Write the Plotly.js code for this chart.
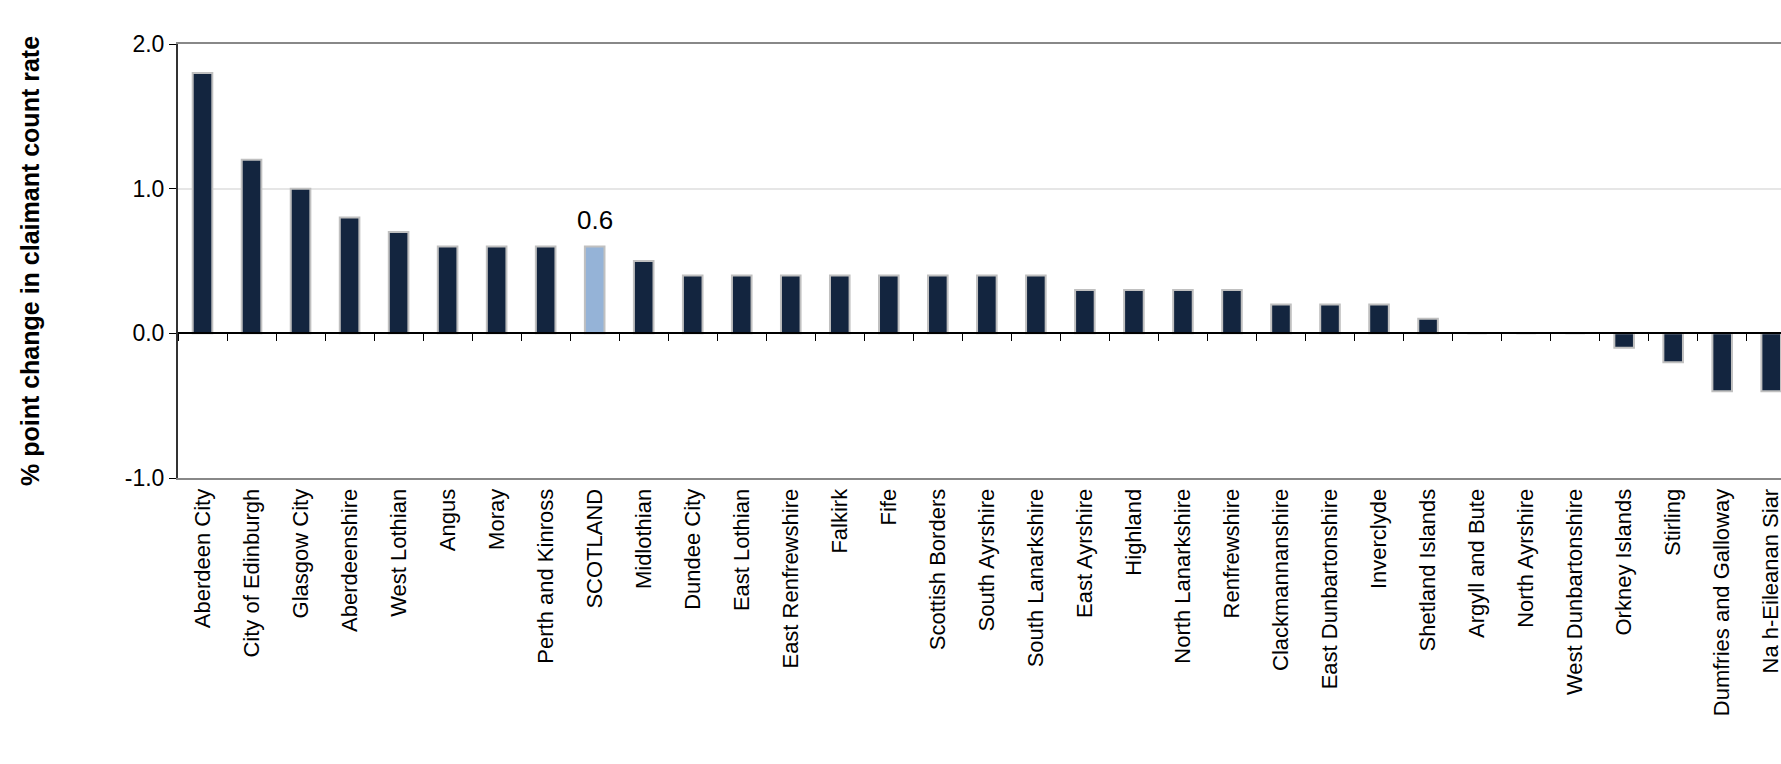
<!DOCTYPE html>
<html>
<head>
<script src="https://cdn.plot.ly/plotly-3.0.1.min.js"></script>
<style>body{margin:0;background:#fff}</style>
</head>
<body>
<div id="chart" style="width:1781px;height:764px"></div>
<script>
    // council areas, sorted by change
    let areas = ["Aberdeen City", "City of Edinburgh", "Glasgow City", "Aberdeenshire", "West Lothian",
        "Angus", "Moray", "Perth and Kinross", "SCOTLAND", "Midlothian", "Dundee City", "East Lothian",
        "East Renfrewshire", "Falkirk", "Fife", "Scottish Borders", "South Ayrshire", "South Lanarkshire",
        "East Ayrshire", "Highland", "North Lanarkshire", "Renfrewshire", "Clackmannanshire",
        "East Dunbartonshire", "Inverclyde", "Shetland Islands", "Argyll and Bute", "North Ayrshire",
        "West Dunbartonshire", "Orkney Islands", "Stirling", "Dumfries and Galloway", "Na h-Eileanan Siar"];
    let change = [1.8, 1.2, 1.0, 0.8, 0.7, 0.6, 0.6, 0.6, 0.6, 0.5, 0.4, 0.4, 0.4, 0.4, 0.4, 0.4, 0.4, 0.4,
        0.3, 0.3, 0.3, 0.3, 0.2, 0.2, 0.2, 0.1, 0, 0, 0, -0.1, -0.2, -0.4, -0.4];
    let yTicks = [-1, 0, 1, 2];
    let yTickText = ["-1.0", "0.0", "1.0", "2.0"];

    let colors = areas.map(a => a === "SCOTLAND" ? "#95b3d7" : "#13253f");

    var bars = {
        x: areas,
        y: change,
        type: 'bar',
        width: 0.4,
        marker: { color: colors, line: { color: '#c0c0c0', width: 2 } },
        hoverinfo: 'x+y'
    };
    // empty trace so the zero line axis shows up
    var zeroAxis = {
        x: areas, y: areas.map(() => null), xaxis: 'x2', type: 'scatter', mode: 'lines', hoverinfo: 'skip'
    };

    var layout = {
        paper_bgcolor: '#fff',
        plot_bgcolor: '#fff',
        showlegend: false,
        margin: { t: 44, r: 0, l: 178, b: 286 },
        font: { family: "Liberation Sans, Arial, sans-serif", size: 23, color: '#000' },
        xaxis: {
            range: [-0.5, 32.2],
            tickangle: -90,
            tickfont: { size: 22 },
            showline: true, linecolor: '#888', linewidth: 2, mirror: true,
            ticks: '', showgrid: false, zeroline: false
        },
        xaxis2: {
            overlaying: 'x', anchor: 'free', position: 1 / 3,
            range: [-0.5, 32.2],
            showticklabels: false, showline: true, linecolor: '#000', linewidth: 1.5,
            ticks: 'outside', tickson: 'boundaries', ticklen: 7, tickcolor: '#000',
            showgrid: false, zeroline: false
        },
        yaxis: {
            range: [-1, 2],
            tickvals: yTicks, ticktext: yTickText,
            ticks: 'outside', ticklen: 7, tickcolor: '#000',
            showline: true, linecolor: '#333', linewidth: 2,
            showgrid: true, gridcolor: '#e6e6e6', gridwidth: 1.5,
            zeroline: false,
            title: { text: '<b>% point change in claimant count rate</b>', font: { size: 25 }, standoff: 78 }
        },
        annotations: [{
            x: "SCOTLAND", y: change[areas.indexOf("SCOTLAND")], text: "0.6",
            showarrow: false, yanchor: 'bottom', yshift: 10, font: { size: 26 }
        }]
    };

    Plotly.newPlot('chart', [bars, zeroAxis], layout, { displayModeBar: false });
</script>
</body>
</html>
